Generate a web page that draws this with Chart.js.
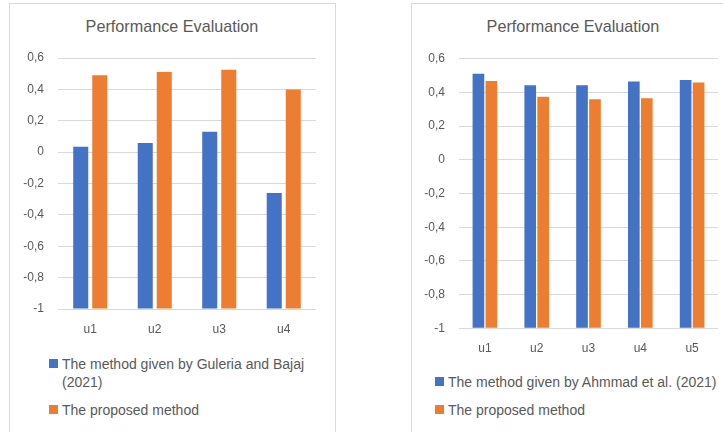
<!DOCTYPE html>
<html>
<head>
<meta charset="utf-8">
<script src="https://cdn.jsdelivr.net/npm/chart.js@4/dist/chart.umd.min.js"></script>
<style>
  body { margin: 0; width: 723px; height: 432px; overflow: hidden; background: #fff; font-family: "Liberation Sans", Arial, sans-serif; }
  .panel { position: absolute; border: 1px solid #d9d9d9; }
  .box { position: absolute; }
  .title { position: absolute; width: 300px; text-align: center; color: #595959; font-size: 16.2px; line-height: 20px; }
  .legend { position: absolute; color: #595959; font-size: 14px; line-height: 18px; }
  .legend .item { position: relative; padding-left: 13px; margin-bottom: 10px; }
  .legend .sw { position: absolute; left: 0; top: 4px; width: 9px; height: 9px; }
</style>
</head>
<body>
<div class="panel" style="left:9px; top:3px; width:325px; height:500px;"></div>
<div class="panel" style="left:411px; top:3px; width:400px; height:500px;"></div>

<div class="title" id="titleLeft" style="left:22px; top:16px;"></div>
<div class="title" id="titleRight" style="left:423px; top:16px;"></div>

<div class="box" style="left:11px; top:4px; width:323px; height:345px;"><canvas id="chartLeft"></canvas></div>
<div class="box" style="left:412px; top:4px; width:311px; height:365px;"><canvas id="chartRight"></canvas></div>

<div class="legend" id="legendLeft" style="left:49px; top:355px; width:265px;"></div>
<div class="legend" id="legendRight" style="left:435px; top:373px; width:300px; white-space:nowrap;"></div>

<script>
// chart data
const chartTitle = 'Performance Evaluation';

const leftCategories = ['u1', 'u2', 'u3', 'u4'];
const leftGuleria = [0.035, 0.058, 0.13, -0.26];
const leftProposed = [0.49, 0.51, 0.525, 0.40];

const rightCategories = ['u1', 'u2', 'u3', 'u4', 'u5'];
const rightAhmmad = [0.51, 0.443, 0.443, 0.465, 0.473];
const rightProposed = [0.467, 0.374, 0.36, 0.366, 0.459];

const yTickLabels = ['-1', '-0,8', '-0,6', '-0,4', '-0,2', '0', '0,2', '0,4', '0,6'];

const blue = '#4472C4';
const orange = '#ED7D31';
const grey = '#595959';

function makeChart(id, labels, firstLabel, firstData, secondData, opts) {
    const ctx = document.getElementById(id).getContext('2d');
    return new Chart(ctx, {
        type: 'bar',
        data: {
            labels: labels,
            datasets: [
                { label: firstLabel, data: firstData, backgroundColor: blue, base: -1,
                  categoryPercentage: opts.cat, barPercentage: opts.bar },
                { label: 'The proposed method', data: secondData, backgroundColor: orange, base: -1,
                  categoryPercentage: opts.cat, barPercentage: opts.bar }
            ]
        },
        options: {
            responsive: true,
            maintainAspectRatio: false,
            animation: false,
            layout: { padding: { left: 0, right: opts.right, top: opts.top, bottom: 0 } },
            plugins: {
                legend: { display: false },
                tooltip: { enabled: false },
                title: { display: false }
            },
            scales: {
                y: {
                    min: -1,
                    max: 0.6,
                    afterFit: function (scale) { scale.width = 47; },
                    ticks: {
                        stepSize: 0.2,
                        padding: 14,
                        color: grey,
                        font: { family: 'Liberation Sans', size: 12 },
                        callback: function (value, index) { return yTickLabels[index]; }
                    },
                    grid: { color: '#d9d9d9', drawTicks: false },
                    border: { display: false }
                },
                x: {
                    afterFit: function (scale) { scale.height = opts.xHeight; },
                    ticks: {
                        padding: 13,
                        color: grey,
                        font: { family: 'Liberation Sans', size: 12 }
                    },
                    grid: { display: false, drawTicks: false },
                    border: { display: false }
                }
            }
        }
    });
}

function buildLegend(id, chart) {
    const el = document.getElementById(id);
    chart.data.datasets.forEach(function (ds) {
        const item = document.createElement('div');
        item.className = 'item';
        const sw = document.createElement('span');
        sw.className = 'sw';
        sw.style.background = ds.backgroundColor;
        item.appendChild(sw);
        item.appendChild(document.createTextNode(ds.label));
        el.appendChild(item);
    });
}

document.getElementById('titleLeft').textContent = chartTitle;
document.getElementById('titleRight').textContent = chartTitle;

const leftChart = makeChart('chartLeft', leftCategories, 'The method given by Guleria and Bajaj (2021)',
    leftGuleria, leftProposed, { cat: 0.59, bar: 0.79, right: 18, top: 54, xHeight: 40 });
const rightChart = makeChart('chartRight', rightCategories, 'The method given by Ahmmad et al. (2021)',
    rightAhmmad, rightProposed, { cat: 0.5, bar: 0.9, right: 5, top: 54.7, xHeight: 40.7 });

buildLegend('legendLeft', leftChart);
buildLegend('legendRight', rightChart);
</script>
</body>
</html>
